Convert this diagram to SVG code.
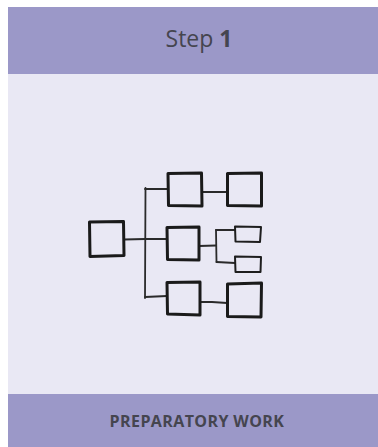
<svg xmlns="http://www.w3.org/2000/svg" width="378" height="447" viewBox="0 0 378 447">
<style>
.band{fill:#9b98c8}
.body{fill:#e9e8f4}
.box{fill:none;stroke:#1a1a1a;stroke-width:3;stroke-linejoin:round;stroke-linecap:round}
.sbox{fill:none;stroke:#1e1e1e;stroke-width:2;stroke-linejoin:round;stroke-linecap:round}
.ln{fill:none;stroke:#2a2a2a;stroke-width:1.8;stroke-linecap:round}
.title{font-family:"Open Sans",sans-serif;font-size:23px;fill:#45454f}
.foot{font-family:"Open Sans",sans-serif;font-size:16px;font-weight:bold;fill:#45454f;letter-spacing:0.4px}
</style>
<rect x="0" y="0" width="378" height="447" fill="#ffffff"/>
<rect class="body" x="8" y="74" width="370" height="320"/>
<g id="header">
<rect class="band" x="8" y="7" width="370" height="67"/>
<text class="title" x="199" y="47" text-anchor="middle">Step <tspan font-weight="bold">1</tspan></text>
</g>
<g id="footer">
<rect class="band" x="8" y="394" width="370" height="53"/>
<text class="foot" x="197" y="427" text-anchor="middle">PREPARATORY WORK</text>
</g>
<g id="connectors">
<path class="ln" d="M124 239.5 L145 239"/>
<path class="ln" d="M145.5 188 L145 298"/>
<path class="ln" d="M145 239 L167 239"/>
<path class="ln" d="M145 189 L168 189"/>
<path class="ln" d="M145 297 L167 296"/>
<path class="ln" d="M202 192 L227 192"/>
<path class="ln" d="M199 246 L216 245.5"/>
<path class="ln" d="M216 230 L216.5 262"/>
<path class="ln" d="M216 230 L235 230"/>
<path class="ln" d="M216.5 262 L235 263"/>
<path class="ln" d="M200 302 L212 302 L227 303"/>
</g>
<g id="n-root"><path class="box" d="M89.5 222 L123.5 221.5 L124 255.5 L90 256.5 Z"/></g>
<g id="n-top-mid"><path class="box" d="M168 173.5 L201.5 173 L202 206 L168.5 205.5 Z"/></g>
<g id="n-top-right"><path class="box" d="M227.5 173.5 L261.5 173 L261.5 206 L227.5 205.5 Z"/></g>
<g id="n-mid-mid"><path class="box" d="M167 227.5 L199 227 L199 260 L167.5 259.5 Z"/></g>
<g id="n-mid-small-1"><path class="sbox" d="M235 226.5 L261 227 L260 242 L235.5 241.5 Z"/></g>
<g id="n-mid-small-2"><path class="sbox" d="M235 256.5 L261 257 L260.5 272 L235.5 272 Z"/></g>
<g id="n-bot-mid"><path class="box" d="M167 282.5 L200 282 L200 315 L167.5 314 Z"/></g>
<g id="n-bot-right"><path class="box" d="M227.5 284 L261.5 283 L261 317 L227.5 316.5 Z"/></g>
</svg>
